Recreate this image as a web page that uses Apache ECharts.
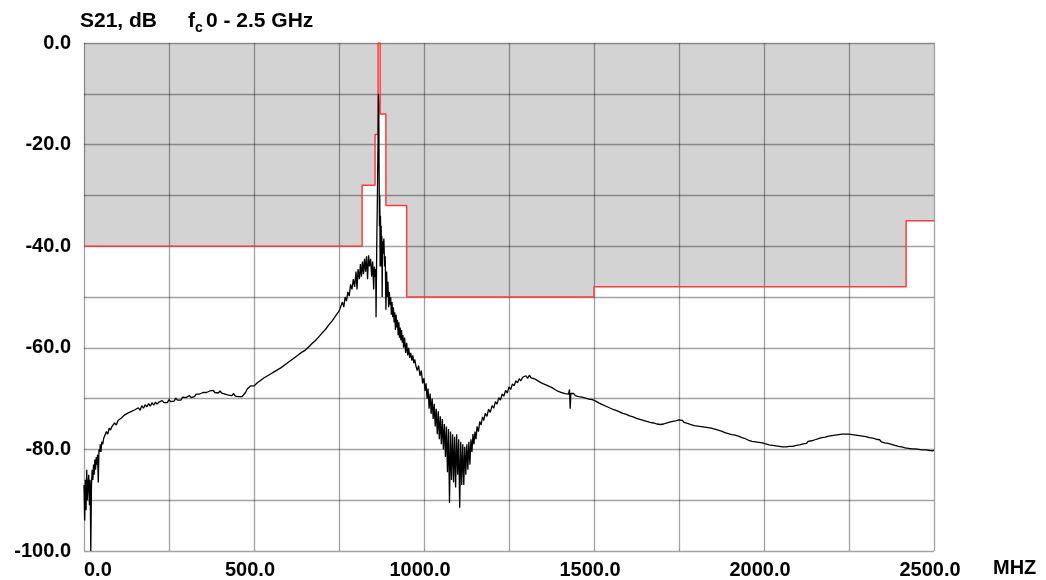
<!DOCTYPE html>
<html>
<head>
<meta charset="utf-8">
<script src="https://cdn.jsdelivr.net/npm/echarts@6/dist/echarts.min.js"></script>
<style>
html,body{margin:0;padding:0;background:#fff;}
#chart{width:1046px;height:580px;}
</style>
</head>
<body>
<div id="chart"></div>
<script>
// Axis ranges / ticks
const xTicks = [0, 500, 1000, 1500, 2000, 2500];
const yTicks = [0, -20, -40, -60, -80, -100];

// Mask (limit line) corner points [MHz, dB]
const maskLine = [
  [0,-40],[818,-40],[818,-28],[856,-28],[856,-18],[865,-18],[865,0],[871,0],[871,-14],
  [888,-14],[888,-32],[949,-32],[949,-50],[1500,-50],[1500,-48],[2418,-48],[2418,-35],[2500,-35]
];

// Measured S21 trace [MHz, dB]
const s21Trace = [
  [0,-87],[2,-94],[4,-86],[6,-92],[8,-84],[10,-90],[12,-87],[14,-85],[16,-91],[18,-86],
  [20,-100],[22,-87],[24,-84],[26,-86],[28,-83],[30,-85],[32,-82],[34,-84],[36,-81.5],[38,-83],
  [40,-81],[42,-86.5],[44,-80],[46,-80.5],[48,-79],[50,-80.5],[52,-78.5],[55,-79],[58,-77.8],[62,-77.5],
  [66,-76.5],[70,-77],[74,-75.8],[78,-76.2],[82,-75.5],[86,-75.8],[90,-74.8],[95,-75.2],[100,-74.3],[105,-74.6],
  [110,-73.8],[115,-74],[120,-73.2],[125,-73.5],[130,-72.8],[135,-73.1],[140,-72.5],[145,-72.8],[150,-72.2],[155,-72.5],
  [160,-71.8],[165,-72.3],[170,-71.4],[175,-71.9],[180,-71.2],[185,-71.6],[190,-71],[195,-71.5],[200,-70.8],[205,-71.3],
  [210,-70.7],[215,-71.1],[220,-70.7],[225,-71],[230,-70.4],[235,-70.8],[240,-70.5],[245,-70.8],[250,-70.2],[255,-70.6],
  [260,-70.3],[265,-70.5],[270,-69.9],[275,-70.3],[280,-70.1],[285,-70.3],[290,-69.7],[295,-70],[300,-69.8],[305,-70],
  [310,-69.4],[315,-69.8],[320,-69.5],[325,-69.6],[330,-69.1],[335,-69.4],[340,-69.1],[345,-69.3],[350,-68.8],[355,-69.1],
  [360,-68.8],[365,-69],[370,-68.5],[375,-68.8],[380,-68.4],[385,-68.8],[390,-68.6],[395,-68.9],[400,-68.5],[405,-68.9],
  [410,-68.8],[415,-69.1],[420,-68.9],[425,-69.3],[430,-69.1],[435,-69.4],[440,-69],[445,-69.5],[450,-69.3],[455,-69.6],
  [460,-69.4],[465,-69.6],[470,-69.2],[475,-68.8],[480,-68.1],[485,-68],[490,-67.5],[495,-67.8],[500,-67.5],[505,-67.3],
  [510,-66.9],[515,-67.1],[520,-66.4],[525,-66.4],[530,-65.9],[535,-66],[540,-65.5],[545,-65.6],[550,-65.1],[555,-65.1],
  [560,-64.7],[565,-64.7],[570,-64.3],[575,-64.4],[580,-63.9],[585,-63.9],[590,-63.4],[595,-63.4],[600,-62.9],[605,-63],
  [610,-62.4],[615,-62.5],[620,-61.9],[625,-62],[630,-61.4],[635,-61.5],[640,-60.9],[645,-61],[650,-60.5],[655,-60.4],
  [660,-59.9],[665,-59.8],[670,-59.2],[675,-59.2],[680,-58.6],[685,-58.6],[690,-57.9],[695,-57.8],[700,-57.1],[705,-57],
  [710,-56.4],[715,-56.3],[720,-55.5],[725,-55.4],[730,-54.7],[735,-54.5],[740,-53.7],[745,-53.5],[750,-52.8],[755,-52.5],
  [760,-51],[764,-52],[768,-50],[772,-50.8],[776,-49],[780,-49.8],[784,-47.5],[788,-48.5],[792,-46.5],[796,-48],
  [800,-45],[803,-48.5],[806,-44.5],[810,-46.5],[813,-43.5],[816,-46],[819,-43],[822,-45.5],[825,-42.5],[828,-45],
  [831,-42],[834,-46.5],[837,-41.8],[840,-44],[843,-42.5],[846,-46],[849,-43],[852,-48.5],[854,-44],[856,-46],
  [858,-44.5],[859,-54],[861,-40],[863,-30],[865,-18],[866,-10],[867,-12],[868,-26],[869,-36],[870,-30],
  [871,-44],[872,-34],[873,-40],[874,-36],[875,-44],[876,-38],[877,-50],[878,-39],[880,-41.5],[882,-38.5],
  [884,-44],[886,-42],[888,-52.5],[890,-45],[892,-50],[894,-47],[896,-52],[898,-49],[900,-51.5],[902,-50],
  [904,-53.5],[906,-51],[908,-54],[910,-52],[912,-55],[914,-53],[916,-56.5],[918,-53.5],[920,-56],[922,-54.5],
  [924,-57.5],[926,-55],[928,-58],[930,-56],[932,-58.5],[934,-56.5],[936,-59],[938,-57.5],[940,-60],[943,-58],
  [946,-61],[949,-59],[952,-61.5],[955,-60],[958,-62],[961,-61],[964,-62.5],[967,-61.5],[970,-63],[973,-62.3],
  [976,-63.5],[980,-64.5],[984,-63.5],[988,-65.5],[992,-64.5],[996,-67],[1000,-66],[1003,-68.5],[1006,-67],[1009,-70],
  [1012,-68],[1015,-72],[1018,-69],[1021,-73],[1024,-70],[1027,-74],[1030,-71],[1033,-75.5],[1036,-72],[1039,-77],
  [1042,-72.5],[1045,-78],[1048,-73.5],[1051,-79],[1054,-74],[1057,-80],[1060,-75],[1063,-81.5],[1066,-75.5],[1069,-84.5],
  [1072,-76],[1075,-90.5],[1078,-76.5],[1081,-86],[1084,-77],[1087,-86.5],[1090,-77.5],[1093,-87.5],[1096,-77],[1099,-85],
  [1102,-78],[1105,-91.5],[1108,-78.5],[1111,-87],[1114,-79],[1117,-87],[1120,-79.5],[1123,-85],[1126,-79],[1129,-84],
  [1132,-78.5],[1135,-83],[1138,-78],[1141,-80.5],[1144,-77],[1147,-79],[1150,-76.5],[1153,-78],[1156,-75.5],[1160,-76.5],
  [1164,-74.5],[1168,-75.2],[1172,-73.6],[1176,-74.3],[1180,-72.9],[1185,-73.5],[1190,-72.1],[1195,-72.7],[1200,-71.4],[1205,-71.9],
  [1210,-70.6],[1215,-71.1],[1220,-69.8],[1225,-70.3],[1230,-69.1],[1235,-69.5],[1240,-68.4],[1245,-68.9],[1250,-67.7],[1255,-68.2],
  [1260,-67.1],[1265,-67.5],[1270,-66.5],[1275,-66.9],[1280,-66.1],[1285,-66.5],[1290,-65.8],[1295,-66.1],[1300,-65.5],[1305,-66],
  [1310,-65.4],[1315,-65.9],[1320,-65.6],[1325,-66.1],[1330,-65.9],[1335,-66.5],[1340,-66.2],[1345,-66.9],[1350,-66.6],[1355,-67.2],
  [1360,-67],[1365,-67.5],[1370,-67.3],[1375,-67.8],[1380,-67.7],[1385,-68.2],[1390,-68],[1395,-68.6],[1400,-68.3],[1405,-68.8],
  [1410,-68.6],[1415,-69],[1420,-68.8],[1425,-69.1],[1428,-68.2],[1430,-72],[1432,-69],[1435,-69.3],[1440,-69],[1445,-69.4],
  [1450,-69.2],[1455,-69.6],[1460,-69.3],[1465,-69.7],[1470,-69.5],[1475,-69.9],[1480,-69.7],[1485,-70.1],[1490,-69.9],[1495,-70.2],
  [1500,-70.1],[1505,-70.5],[1510,-70.4],[1515,-70.9],[1520,-70.8],[1525,-71.2],[1530,-71],[1535,-71.5],[1540,-71.3],[1545,-71.8],
  [1550,-71.6],[1555,-72.1],[1560,-71.9],[1565,-72.3],[1570,-72.1],[1575,-72.6],[1580,-72.5],[1585,-72.9],[1590,-72.7],[1595,-73.1],
  [1600,-73],[1605,-73.4],[1610,-73.3],[1615,-73.6],[1620,-73.5],[1625,-73.9],[1630,-73.7],[1635,-74.1],[1640,-73.9],[1645,-74.3],
  [1650,-74.1],[1655,-74.5],[1660,-74.3],[1665,-74.7],[1670,-74.5],[1675,-74.8],[1680,-74.6],[1685,-75],[1690,-74.8],[1695,-75.1],
  [1700,-74.9],[1705,-75],[1710,-74.8],[1715,-74.8],[1720,-74.6],[1725,-74.6],[1730,-74.4],[1740,-74.4],[1750,-74.2],[1755,-74.5],
  [1760,-74.3],[1765,-74.7],[1770,-74.5],[1775,-74.9],[1780,-74.7],[1785,-75.1],[1790,-74.9],[1795,-75.3],[1800,-75],[1805,-75.4],
  [1810,-75.2],[1815,-75.5],[1820,-75.3],[1825,-75.6],[1830,-75.4],[1835,-75.7],[1840,-75.5],[1845,-75.8],[1850,-75.6],[1855,-76],
  [1860,-75.8],[1865,-76.2],[1870,-76],[1875,-76.4],[1880,-76.2],[1885,-76.7],[1890,-76.5],[1895,-76.9],[1900,-76.7],[1905,-77.1],
  [1910,-76.9],[1915,-77.2],[1920,-77],[1925,-77.4],[1930,-77.2],[1935,-77.7],[1940,-77.5],[1945,-77.9],[1950,-77.7],[1955,-78.2],
  [1960,-78],[1965,-78.4],[1970,-78.2],[1975,-78.5],[1980,-78.3],[1985,-78.6],[1990,-78.4],[1995,-78.7],[2000,-78.5],[2005,-78.9],
  [2010,-78.7],[2015,-79.1],[2020,-78.9],[2025,-79.2],[2030,-79],[2035,-79.3],[2040,-79.1],[2045,-79.4],[2050,-79.2],[2055,-79.5],
  [2060,-79.3],[2065,-79.5],[2070,-79.3],[2075,-79.4],[2080,-79.2],[2085,-79.4],[2090,-79.1],[2095,-79.2],[2100,-78.9],[2105,-79.1],
  [2110,-78.8],[2115,-78.9],[2120,-78.6],[2125,-78.8],[2130,-78.4],[2135,-78.6],[2140,-78.3],[2145,-78.5],[2150,-78.1],[2155,-78.2],
  [2160,-77.9],[2165,-78.1],[2170,-77.7],[2175,-77.9],[2180,-77.6],[2185,-77.7],[2190,-77.4],[2195,-77.6],[2200,-77.3],[2205,-77.5],
  [2210,-77.2],[2215,-77.4],[2220,-77.1],[2225,-77.3],[2230,-77],[2235,-77.2],[2240,-77],[2245,-77.2],[2250,-77],[2255,-77.2],
  [2260,-77.1],[2265,-77.3],[2270,-77.2],[2275,-77.4],[2280,-77.3],[2285,-77.5],[2290,-77.4],[2295,-77.7],[2300,-77.5],[2305,-77.8],
  [2310,-77.7],[2315,-78],[2320,-77.8],[2325,-78.1],[2330,-78],[2335,-78.3],[2340,-78.1],[2345,-78.5],[2350,-78.3],[2355,-78.7],
  [2360,-78.5],[2365,-78.8],[2370,-78.6],[2375,-79],[2380,-78.8],[2385,-79.2],[2390,-79],[2395,-79.4],[2400,-79.2],[2405,-79.5],
  [2410,-79.3],[2415,-79.7],[2420,-79.5],[2425,-79.8],[2430,-79.6],[2435,-79.9],[2440,-79.7],[2445,-79.9],[2450,-79.8],[2455,-80],
  [2460,-79.9],[2465,-80.1],[2470,-79.9],[2475,-80.1],[2480,-80],[2485,-80.2],[2490,-80.1],[2495,-80.3],[2500,-80.2]
];

const FONT = '"Liberation Sans", Arial, sans-serif';
const chart = echarts.init(document.getElementById('chart'), null, {renderer: 'canvas'});
chart.setOption({
  animation: false,
  backgroundColor: '#fff',
  grid: {left: 84, right: 112, top: 43, bottom: 29, containLabel: false},
  xAxis: {
    type: 'value', min: 0, max: 2500, interval: 250,
    axisLine: {show: false}, axisTick: {show: false},
    splitLine: {show: true, lineStyle: {color: 'rgba(0,0,0,0.36)', width: 1.3}},
    axisLabel: {
      margin: 9, color: '#000', fontFamily: FONT, fontWeight: 'bold', fontSize: 20,
      alignMinLabel: 'left', padding: [0, 8, 0, 0],
      formatter: v => xTicks.indexOf(v) >= 0 ? v.toFixed(1) : ''
    }
  },
  yAxis: {
    type: 'value', min: -100, max: 0, interval: 10,
    axisLine: {show: false}, axisTick: {show: false},
    splitLine: {show: true, lineStyle: {color: 'rgba(0,0,0,0.36)', width: 1.3}},
    axisLabel: {
      margin: 13, color: '#000', fontFamily: FONT, fontWeight: 'bold', fontSize: 20,
      formatter: v => yTicks.indexOf(v) >= 0 ? (v === 0 ? '0.0' : v.toFixed(1)) : ''
    }
  },
  graphic: [
    {type: 'text', x: 80, y: 21, style: {text: 'S21, dB', font: 'bold 21px ' + FONT, fill: '#000', verticalAlign: 'middle'}},
    {type: 'text', x: 188, y: 21, style: {text: 'f', font: 'bold 21px ' + FONT, fill: '#000', verticalAlign: 'middle'}},
    {type: 'text', x: 195, y: 28, style: {text: 'c', font: 'bold 14px ' + FONT, fill: '#000', verticalAlign: 'middle'}},
    {type: 'text', x: 206, y: 21, style: {text: '0 - 2.5 GHz', font: 'bold 21px ' + FONT, fill: '#000', verticalAlign: 'middle'}},
    {type: 'text', x: 993, y: 568, style: {text: 'MHZ', font: 'bold 20px ' + FONT, fill: '#000', verticalAlign: 'middle'}}
  ],
  series: [
    {
      name: 'maskFill', type: 'line', data: maskLine, z: -1, showSymbol: false, silent: true,
      lineStyle: {width: 0}, areaStyle: {origin: 'end', color: '#d3d3d3', opacity: 1}
    },
    {
      name: 'mask', type: 'line', data: maskLine, z: 3, showSymbol: false, silent: true,
      lineStyle: {color: '#ff3b3b', width: 1.5}
    },
    {
      name: 'S21', type: 'line', data: s21Trace, z: 4, showSymbol: false, silent: true, sampling: null,
      lineStyle: {color: '#000', width: 1.3}
    }
  ]
});
</script>
</body>
</html>
